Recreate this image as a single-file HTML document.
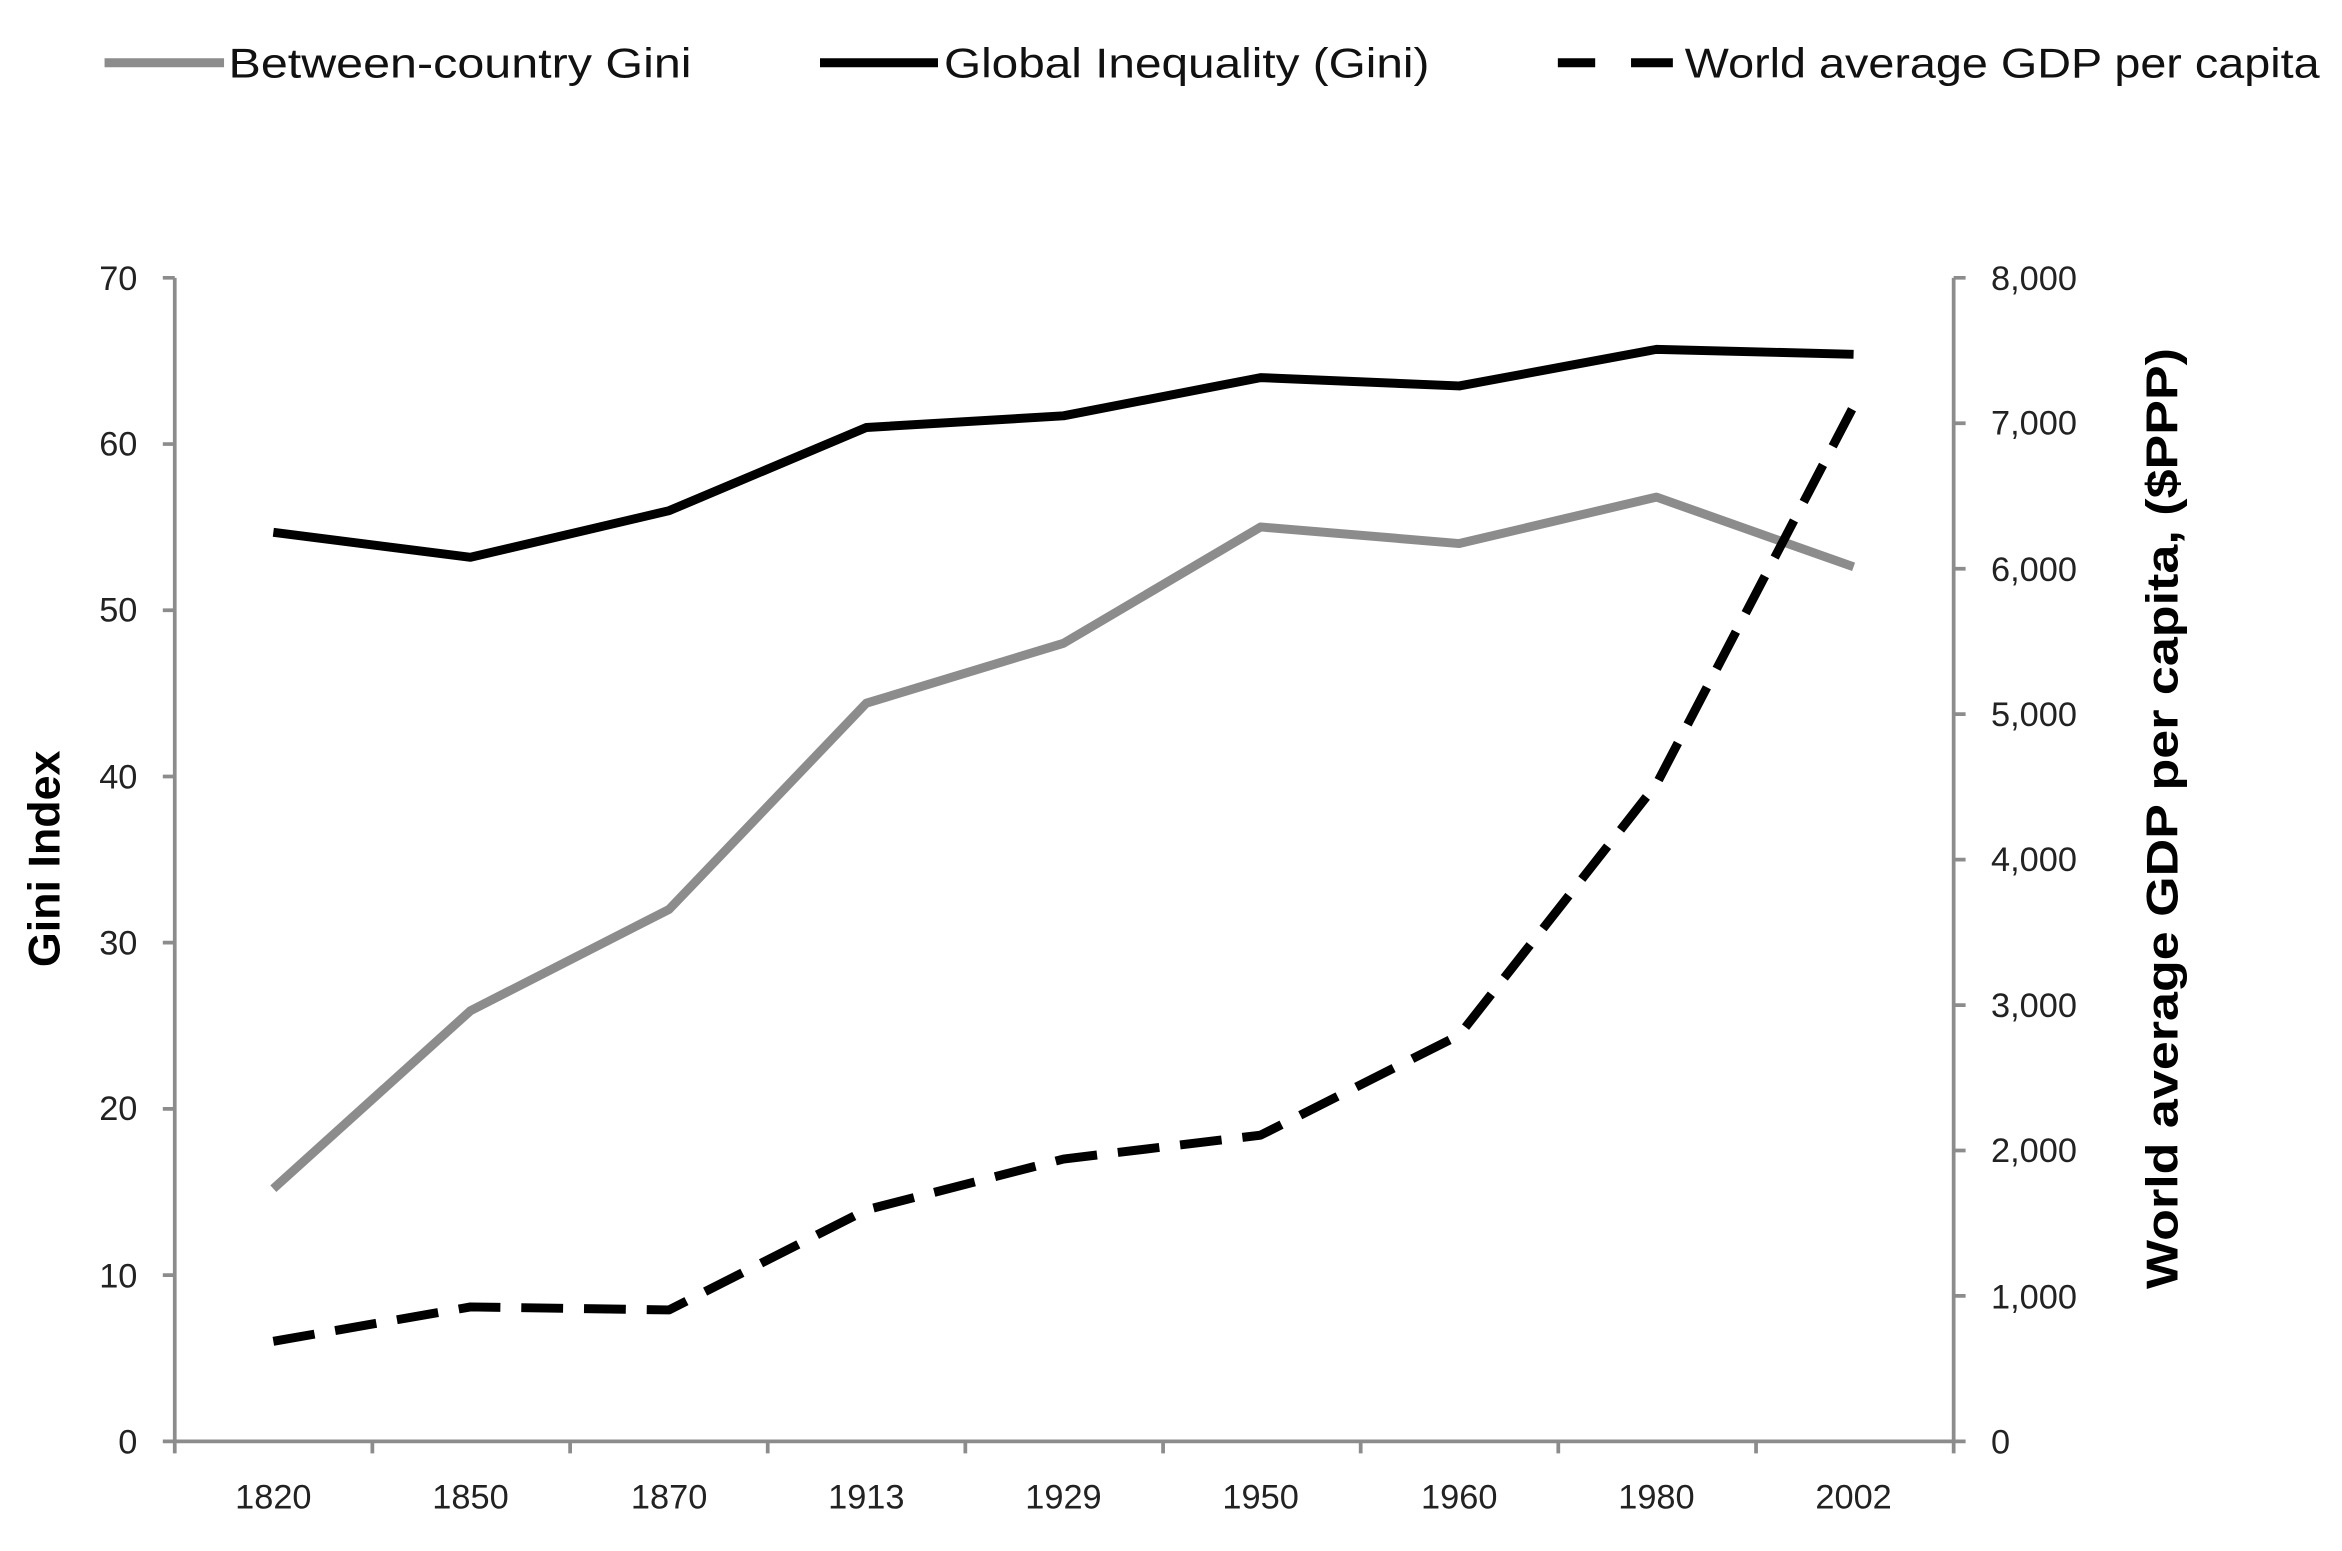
<!DOCTYPE html>
<html><head><meta charset="utf-8"><style>html,body{margin:0;padding:0;background:#fff}svg{display:block}</style></head>
<body>
<svg width="2342" height="1551" viewBox="0 0 1568 1038.4" preserveAspectRatio="none" xmlns="http://www.w3.org/2000/svg" font-family="Liberation Sans, sans-serif">
<rect width="1568" height="1038.4" fill="#fff"/>
<!-- legend -->
<line x1="70" y1="42" x2="150" y2="42" stroke="#8c8c8c" stroke-width="6"/>
<text x="153" y="52" font-size="28" fill="#111" textLength="310" lengthAdjust="spacingAndGlyphs">Between-country Gini</text>
<line x1="549" y1="42" x2="628" y2="42" stroke="#000" stroke-width="6"/>
<text x="632" y="52" font-size="28" fill="#111" textLength="325" lengthAdjust="spacingAndGlyphs">Global Inequality (Gini)</text>
<path d="M1043 42H1068M1092 42H1120" stroke="#000" stroke-width="6"/>
<text x="1128" y="52" font-size="28" fill="#111" textLength="425" lengthAdjust="spacingAndGlyphs">World average GDP per capita</text>
<!-- axes -->
<g stroke="#8c8c8c" stroke-width="2.5" fill="none">
<line x1="117" y1="186" x2="117" y2="965"/>
<line x1="1308" y1="186" x2="1308" y2="965"/>
<line x1="109" y1="965" x2="1316" y2="965"/>
<path d="M109 186H117M109 297.3H117M109 408.6H117M109 519.9H117M109 631.1H117M109 742.4H117M109 853.7H117"/>
<path d="M1308 186H1316M1308 283.4H1316M1308 380.8H1316M1308 478.1H1316M1308 575.5H1316M1308 672.9H1316M1308 770.3H1316M1308 867.6H1316"/>
<path d="M117 965V973M249.3 965V973M381.7 965V973M514 965V973M646.3 965V973M778.7 965V973M911 965V973M1043.3 965V973M1175.7 965V973M1308 965V973"/>
</g>
<g font-size="23" fill="#222" text-anchor="end">
<text x="92" y="194">70</text><text x="92" y="305">60</text><text x="92" y="416">50</text><text x="92" y="528">40</text><text x="92" y="639">30</text><text x="92" y="750">20</text><text x="92" y="862">10</text><text x="92" y="973">0</text>
</g>
<g font-size="23" fill="#222" text-anchor="start">
<text x="1333" y="194">8,000</text><text x="1333" y="291">7,000</text><text x="1333" y="389">6,000</text><text x="1333" y="486">5,000</text><text x="1333" y="583">4,000</text><text x="1333" y="681">3,000</text><text x="1333" y="778">2,000</text><text x="1333" y="876">1,000</text><text x="1333" y="973">0</text>
</g>
<g font-size="23" fill="#222" text-anchor="middle">
<text x="183" y="1010">1820</text><text x="315" y="1010">1850</text><text x="448" y="1010">1870</text><text x="580" y="1010">1913</text><text x="712" y="1010">1929</text><text x="844" y="1010">1950</text><text x="977" y="1010">1960</text><text x="1109" y="1010">1980</text><text x="1241" y="1010">2002</text>
</g>
<text transform="translate(40,575) rotate(-90)" font-size="30" font-weight="bold" text-anchor="middle" fill="#000">Gini Index</text>
<text transform="translate(1458,548) rotate(-90)" font-size="30" font-weight="bold" text-anchor="middle" fill="#000" textLength="630" lengthAdjust="spacingAndGlyphs">World average GDP per capita, ($PPP)</text>
<!-- series -->
<polyline fill="none" stroke="#8c8c8c" stroke-width="6" stroke-linejoin="round" points="183,795.8 315,676.7 448,608.8 580,470.8 712,430.7 844,352.8 977,363.9 1109,332.8 1241,379.5"/>
<polyline fill="none" stroke="#000" stroke-width="6" stroke-linejoin="round" points="183,356.4 315,373.1 448,341.9 580,286.2 712,278.4 844,252.8 977,258.4 1109,233.9 1241,237.2"/>
<polyline fill="none" stroke="#000" stroke-width="6" stroke-dasharray="28,14" stroke-linejoin="round" points="183,898 315,875 448,877 580,810 712,776 844,760 977,693 1109,525 1241,272"/>
</svg>
</body></html>
